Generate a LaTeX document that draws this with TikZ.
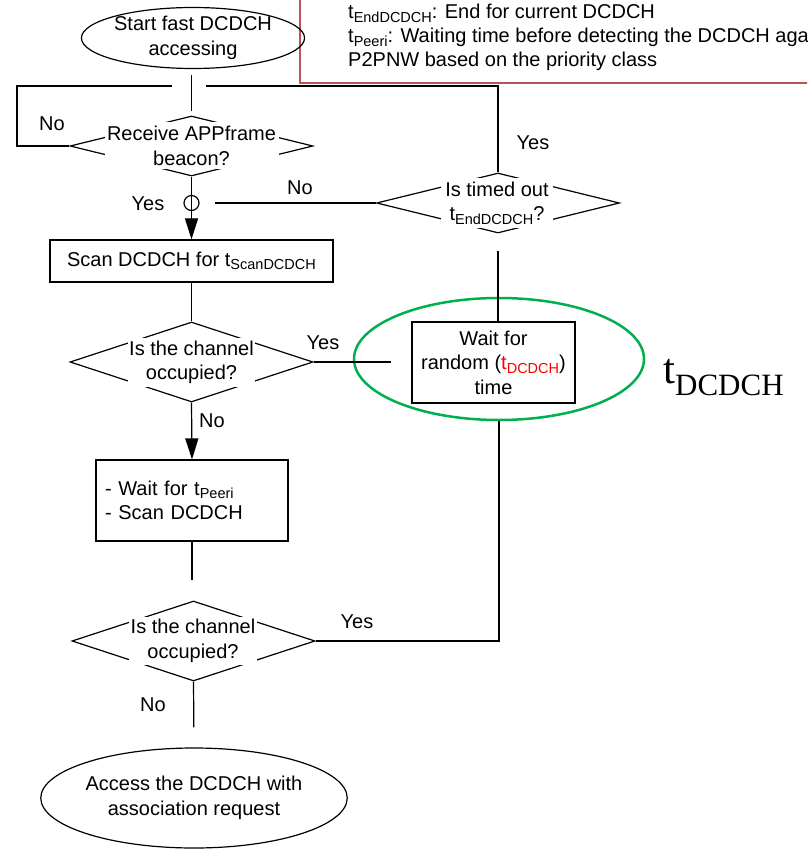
\documentclass[tikz,border=0pt]{standalone}
\usepackage{fontspec}
\setmainfont{Liberation Sans}
\newfontfamily\serifface{Liberation Serif}
\usetikzlibrary{shapes.geometric,arrows.meta}
\definecolor{legendred}{RGB}{185,84,80}
\definecolor{ringgreen}{RGB}{0,176,80}
% lowered small index after a "t"
\newcommand\lowsub[1]{\raisebox{-3.5pt}{\fontsize{14.5}{14.5}\selectfont #1}}

\begin{document}
\begin{tikzpicture}[x=1pt,y=-1pt,
  every node/.style={font=\fontsize{20}{24.5}\selectfont},
  flow/.style={line width=1.2pt},
  arrowflow/.style={flow,-{Triangle[length=21pt,width=13pt]}},
  terminal/.style={ellipse,draw,line width=1.2pt,align=center,inner sep=0},
  process/.style={rectangle,draw,line width=1.2pt,align=center,inner sep=0},
  decision/.style={diamond,draw,line width=1.2pt,inner sep=0},
  qtext/.style={fill=white,inner sep=0,align=center},
  tag/.style={inner sep=0},
  legline/.style={anchor=base west,inner sep=0}]

\useasboundingbox (0,0) rectangle (807,850);
\clip (0,0) rectangle (807,850);

% legend frame, running off the top and right edges
\node[draw=legendred,line width=1.5pt,anchor=south west,inner sep=0,
      minimum width=540pt,minimum height=100pt] (legend) at (299,84) {};
\node[legline] (leg1) at (348,19) {t\lowsub{EndDCDCH}: End for current DCDCH};
\node[legline] (leg2) at (348,43) {t\lowsub{Peeri}: Waiting time before detecting the DCDCH aga};
\node[legline] (leg3) at (348,67) {P2PNW based on the priority class};

% shapes
\node[terminal,minimum width=203pt,minimum height=52pt] (start) at (193,38)
  {Start fast DCDCH\\accessing};
\node[decision,minimum width=243pt,minimum height=60pt] (d1) at (191.5,146) {};
\node[decision,minimum width=243pt,minimum height=60pt] (d2) at (498,203) {};
\node[circle,draw,line width=1.2pt,minimum size=15pt,inner sep=0] (jc) at (191.5,203) {};
\node[process,minimum width=283pt,minimum height=42pt] (scan) at (191.5,261)
  {Scan DCDCH for t\lowsub{ScanDCDCH}};
\node[decision,minimum width=243pt,minimum height=80pt] (d3) at (191.5,362) {};
\node[ellipse,draw=ringgreen,line width=2.5pt,minimum width=290pt,
      minimum height=122pt,inner sep=0] (ring) at (499,359) {};
\node[process,minimum width=163pt,minimum height=81pt] (wr) at (493.5,362.5)
  {Wait for\\random ({\color{red}t\lowsub{DCDCH}})\\time};
\node[anchor=base west,inner sep=0] (tbig) at (663,383)
  {\serifface\fontsize{43}{43}\selectfont t\raisebox{-12pt}{\fontsize{31}{31}\selectfont DCDCH}};
\node[process,align=left,inner xsep=9pt,text width=174pt,minimum height=81pt] (wait)
  at (192,500.5) {- Wait for t\lowsub{Peeri}\\- Scan DCDCH};
\node[decision,minimum width=243pt,minimum height=80pt] (d4) at (193.5,641) {};
\node[terminal,minimum width=280pt,minimum height=100pt] (stop) at (194,798)
  {Access the DCDCH with\\association request};

% connectors
\coordinate (loopl) at (17,86);
\coordinate (jl) at (172,86);
\coordinate (jr) at (206,86);
\draw[flow,shorten <=6pt,shorten >=4pt] (d1.north |- start.south) -- (d1.north);
\draw[flow] (d1.west) -| (loopl) -- (jl);
\draw[flow] (d2.north) |- (jr);
\draw[arrowflow] (d1.south) -- (scan.north);
\draw[flow,shorten >=15pt] (d2.west) -- (jc.east);
\draw[flow] (scan.south) -- (d3.north);
\draw[arrowflow] (d3.south) -- (wait.north);
\draw[flow,shorten >=20pt] (d3.east) -- (wr.west |- d3.east);
\draw[flow,shorten <=17pt] (d2.south) -- (d2.south |- wr.north);
\draw[flow,shorten >=20pt] (wait.south) -- (wait.south |- d4.north);
\draw[flow] (d4.east) -| (ring.south);
\draw[flow,shorten >=20pt] (d4.south) -- (stop.north);

% question texts laid over the diamonds
\node[qtext,minimum width=174pt,minimum height=47pt] (d1t) at (191.5,146)
  {Receive APPframe\\beacon?};
\node[qtext,minimum width=112pt,minimum height=49pt] (d2t) at (497,203)
  {Is timed out\\t\lowsub{EndDCDCH}?};
\node[qtext,minimum width=127pt,minimum height=49pt] (d3t) at (191.5,362.5)
  {Is the channel\\occupied?};
\node[qtext,minimum width=128pt,minimum height=48pt] (d4t) at (193,641)
  {Is the channel\\occupied?};

% branch labels
\node[tag] (no1) at (52,124) {No};
\node[tag] (yes1) at (148,204) {Yes};
\node[tag] (no2) at (300,188) {No};
\node[tag] (yes2) at (533,143) {Yes};
\node[tag] (yes3) at (323,343) {Yes};
\node[tag] (no3) at (212,421) {No};
\node[tag] (yes4) at (357,622) {Yes};
\node[tag] (no4) at (153,705) {No};
\end{tikzpicture}
\end{document}
